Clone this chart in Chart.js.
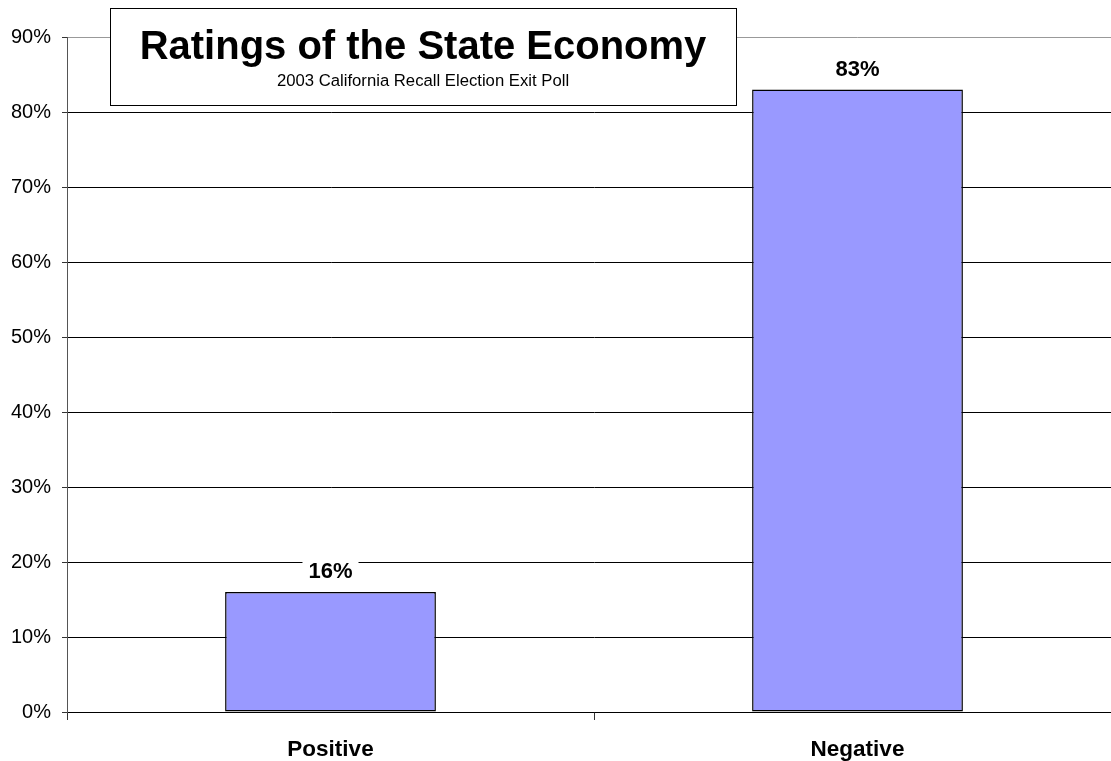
<!DOCTYPE html>
<html>
<head>
<meta charset="utf-8">
<title>Ratings of the State Economy</title>
<script src="https://cdn.jsdelivr.net/npm/chart.js@4/dist/chart.umd.min.js"></script>
<style>
    html, body { margin: 0; padding: 0; background: #fff; overflow: hidden; }
    #wrap { position: relative; width: 1125px; height: 761px; }
</style>
</head>
<body>
<div id="wrap"><canvas id="economiaChart"></canvas></div>
<script>
// dados da pesquisa
const categorias = ['Positive', 'Negative'];
const valores = [16, 83];
const titulo = 'Ratings of the State Economy';
const subtitulo = '2003 California Recall Election Exit Poll';

const fonte = '"Liberation Sans", Arial, sans-serif';

// caixa do título desenhada por cima do gráfico
const caixaTitulo = {
    id: 'caixaTitulo',
    afterDraw(chart) {
        const ctx = chart.ctx;
        ctx.save();
        ctx.fillStyle = '#fff';
        ctx.fillRect(110, 8, 626, 97);
        ctx.strokeStyle = '#000';
        ctx.lineWidth = 1;
        ctx.strokeRect(110.5, 8.5, 626, 97);
        ctx.fillStyle = '#000';
        ctx.textAlign = 'center';
        ctx.textBaseline = 'middle';
        ctx.font = 'bold 40px ' + fonte;
        ctx.fillText(titulo, 423, 48);
        ctx.font = '16.7px ' + fonte;
        ctx.fillText(subtitulo, 423, 81);
        ctx.restore();
    }
};

// rótulos de valor acima das barras, com fundo branco
const rotulosValor = {
    id: 'rotulosValor',
    afterDatasetsDraw(chart) {
        const ctx = chart.ctx;
        const meta = chart.getDatasetMeta(0);
        ctx.save();
        ctx.font = 'bold 22px ' + fonte;
        ctx.textAlign = 'center';
        ctx.textBaseline = 'middle';
        meta.data.forEach((barra, i) => {
            const texto = valores[i] + '%';
            const y = barra.y - 20;
            const w = ctx.measureText(texto).width + 12;
            ctx.fillStyle = '#fff';
            ctx.fillRect(barra.x - w / 2, y - 12, w, 24);
            ctx.fillStyle = '#000';
            ctx.fillText(texto, barra.x, y);
        });
        ctx.restore();
    }
};

const ctx = document.getElementById('economiaChart').getContext('2d');
new Chart(ctx, {
    type: 'bar',
    data: {
        labels: categorias,
        datasets: [{
            data: valores,
            backgroundColor: '#9999ff',
            borderColor: '#000',
            borderWidth: 1.5,
            borderSkipped: false,
            categoryPercentage: 1,
            barPercentage: 0.4
        }]
    },
    options: {
        responsive: true,
        maintainAspectRatio: false,
        animation: false,
        layout: {
            padding: { top: 37, right: 4, bottom: 0, left: 0 }
        },
        plugins: {
            legend: { display: false },
            tooltip: { enabled: false }
        },
        scales: {
            x: {
                offset: true,
                grid: {
                    offset: true,
                    drawOnChartArea: false,
                    drawTicks: true,
                    tickLength: 8,
                    color: '#333'
                },
                border: { color: '#000' },
                ticks: {
                    color: '#000',
                    padding: 16,
                    font: { family: fonte, size: 22.5, weight: 'bold' }
                },
                afterFit(scale) { scale.height = 49; }
            },
            y: {
                min: 0,
                max: 90,
                ticks: {
                    stepSize: 10,
                    color: '#000',
                    padding: 11,
                    font: { family: fonte, size: 20 },
                    callback: v => v + '%'
                },
                grid: {
                    color: c => (c.tick && c.tick.value === 90) ? '#999' : '#000',
                    tickLength: 5,
                    tickColor: '#333'
                },
                border: { color: '#555' },
                afterFit(scale) { scale.width = 67; }
            }
        }
    },
    plugins: [rotulosValor, caixaTitulo]
});
</script>
</body>
</html>
